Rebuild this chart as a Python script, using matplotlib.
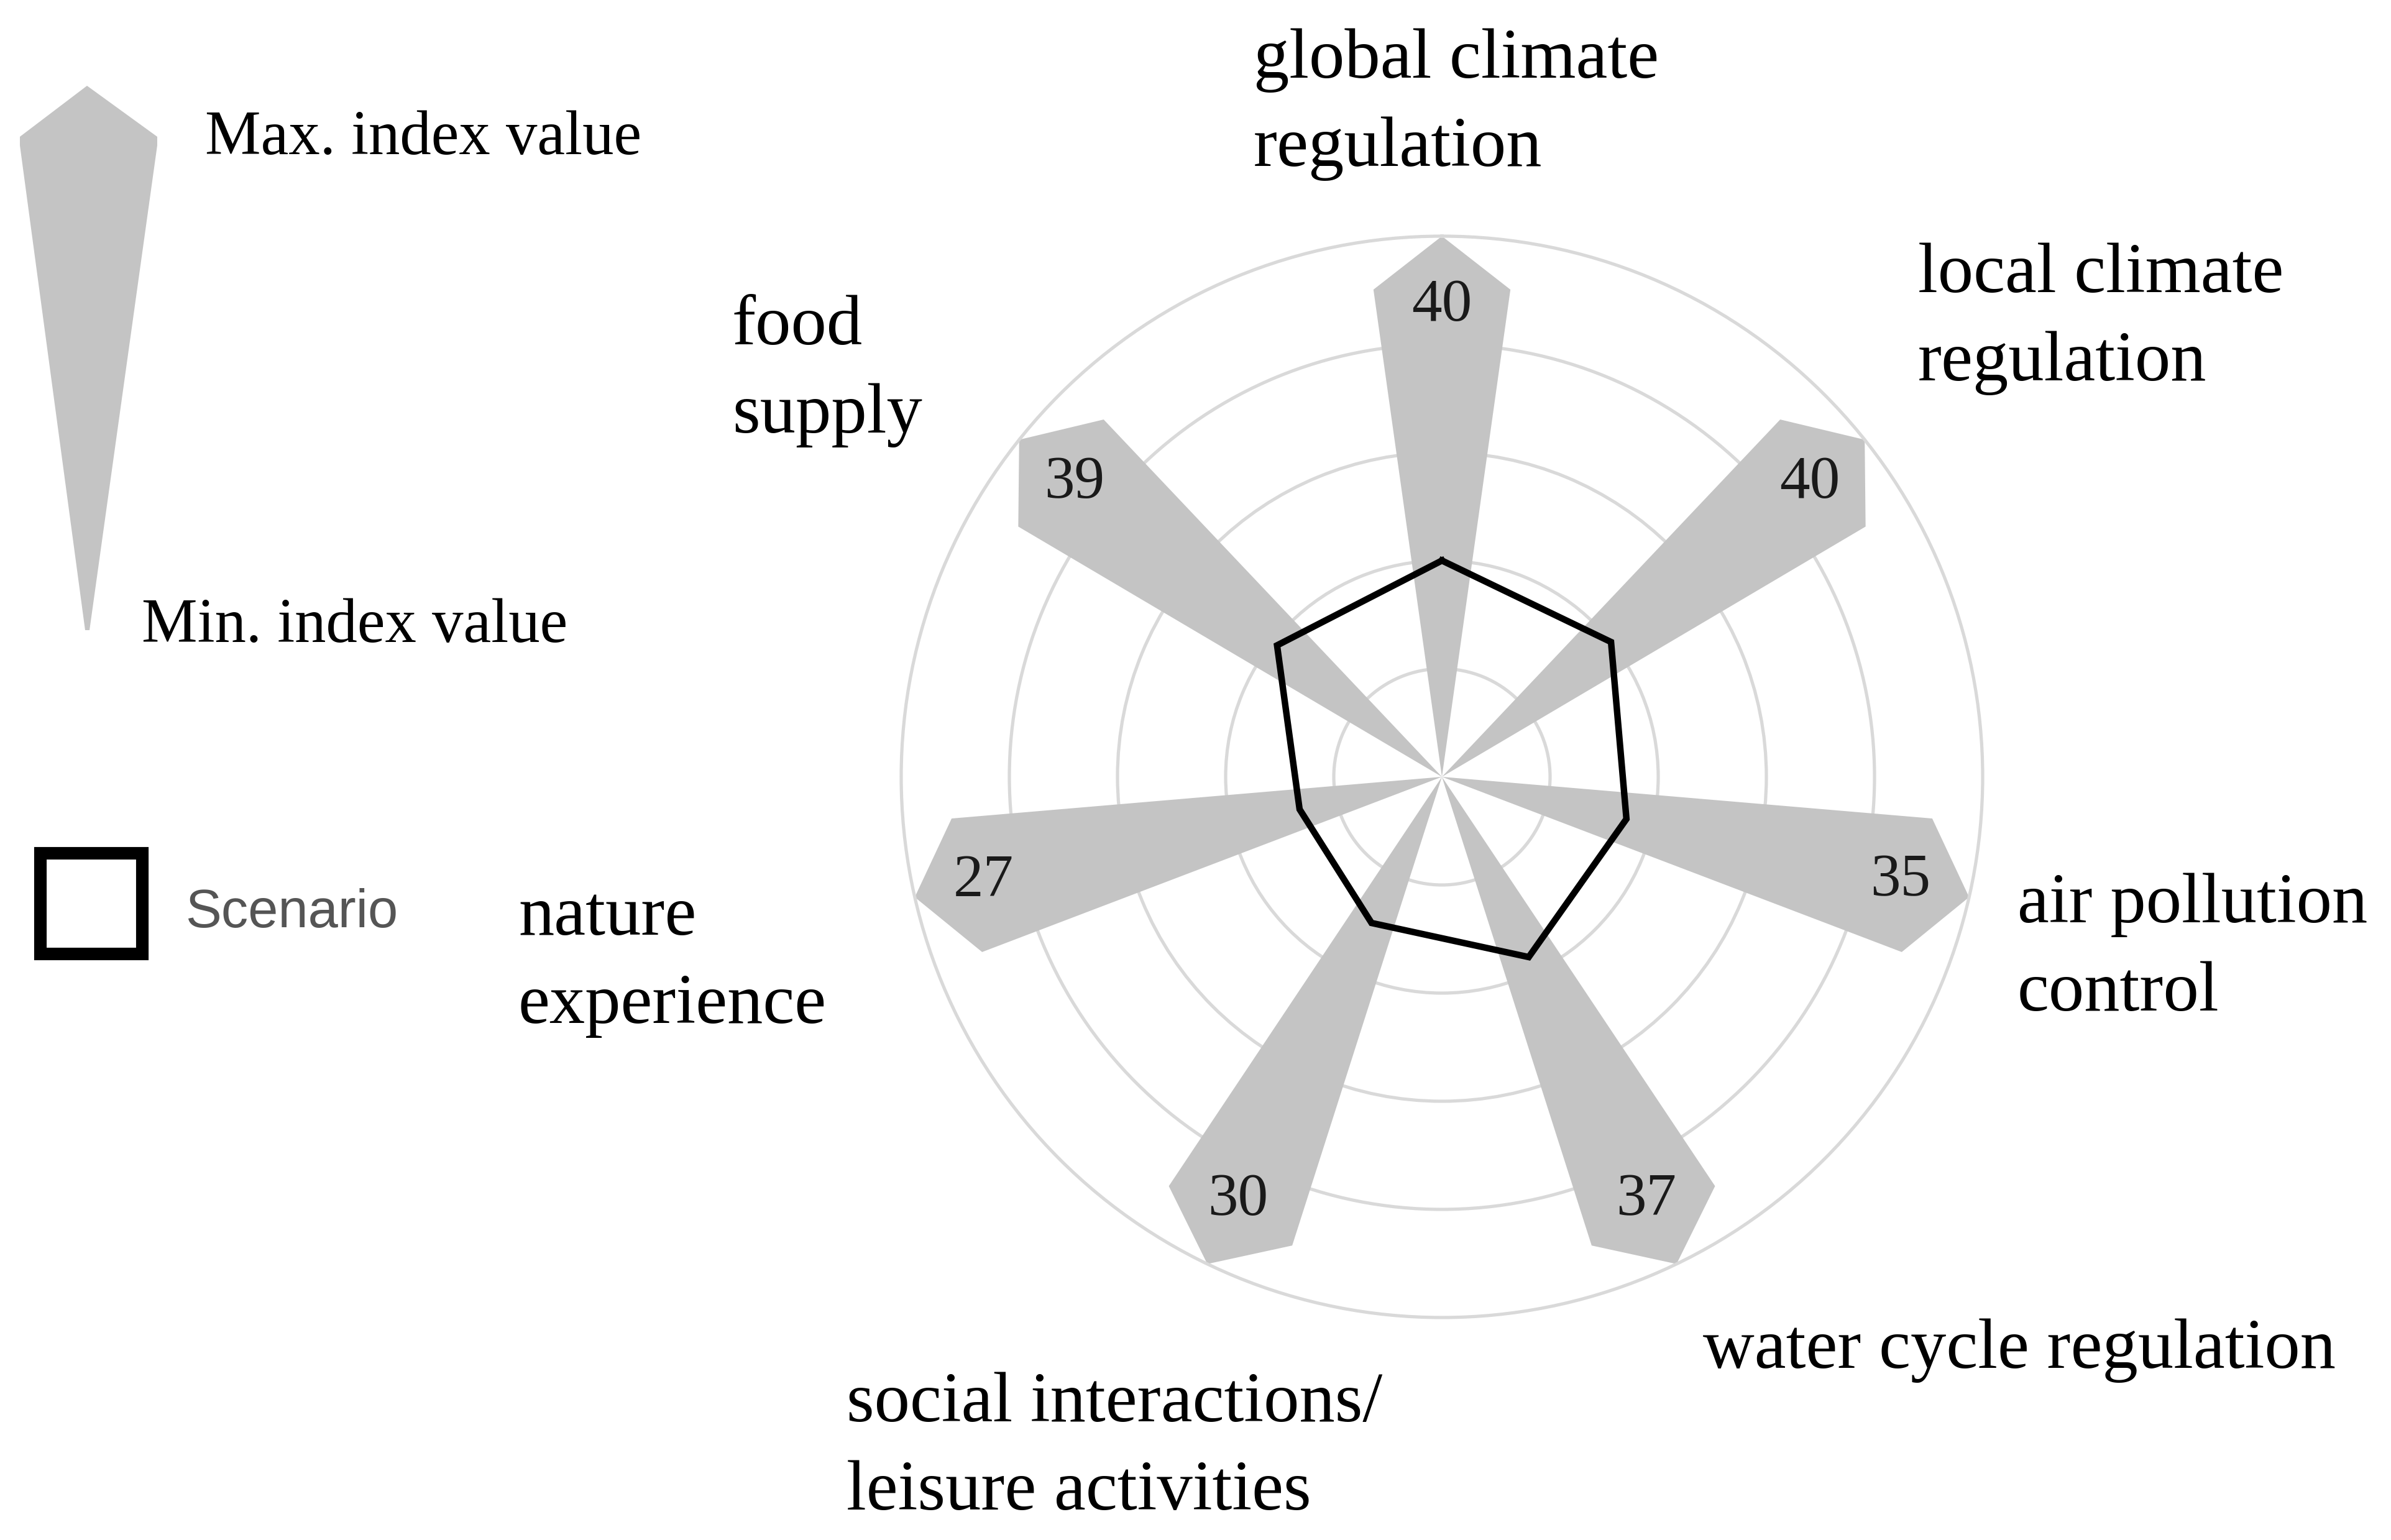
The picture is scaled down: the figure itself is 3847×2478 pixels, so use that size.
import numpy as np
import matplotlib
matplotlib.use("Agg")
import matplotlib.pyplot as plt
from matplotlib.patches import Polygon, Rectangle


W, H = 3847, 2478
DPI = 250
SERIF = "Liberation Serif"
PETAL = "#c4c4c4"
RING = "#d9d9d9"

# ecosystem services, clockwise from the top
services = [
    "global climate\nregulation",
    "local climate\nregulation",
    "air pollution\ncontrol",
    "water cycle regulation",
    "social interactions/\nleisure activities",
    "nature\nexperience",
    "food\nsupply",
]
scenario = [40, 40, 35, 37, 30, 27, 39]
index_min = [0, 0, 0, 0, 0, 0, 0]
index_max = [100, 100, 100, 100, 100, 100, 100]
rings = [20, 40, 60, 80]

# where each service label starts (left edge, baseline of first line), pixels
label_pos = [
    (2017, 125),
    (3086, 470),
    (3246, 1484),
    (2740, 2201),
    (1362, 2287),
    (834, 1504),
    (1178, 554),
]
LINE_STEP = 142


fig = plt.figure(figsize=(W / DPI, H / DPI), dpi=DPI)
fig.patch.set_facecolor("white")

# overlay in pixel units for labels and legend
ov = fig.add_axes([0, 0, 1, 1])
ov.set_xlim(0, W)
ov.set_ylim(H, 0)
ov.axis("off")

# polar chart
cx, cy, R = 2320, 1250, 870
ax = fig.add_axes([(cx - R) / W, (H - cy - R) / H, 2 * R / W, 2 * R / H], projection="polar")
ax.set_facecolor("none")
ax.set_theta_offset(np.pi / 2)
ax.set_theta_direction(-1)
ax.set_ylim(0, 100)
ax.set_thetagrids([])
ax.set_rgrids(rings, labels=[""] * len(rings))
ax.yaxis.grid(True, color=RING, lw=1.5)
ax.spines["polar"].set_color(RING)
ax.spines["polar"].set_linewidth(1.5)
ax.set_axisbelow(True)

n = len(services)
theta = np.arange(n) * 2 * np.pi / n
half = np.deg2rad(8.0)
shoulder = 0.91

for t, lo, hi in zip(theta, index_min, index_max):
    ts = [t, t - half, t, t + half]
    rs = [lo, lo + shoulder * (hi - lo), hi, lo + shoulder * (hi - lo)]
    ax.fill(ts, rs, color=PETAL, lw=0, zorder=2)

ax.plot(np.append(theta, theta[0]), scenario + scenario[:1], color="black",
        lw=3.0, solid_joinstyle="miter", zorder=4)

for t, v in zip(theta, scenario):
    ax.text(t, 87, str(v), ha="center", va="center", fontsize=28,
            family=SERIF, color="#1a1a1a", zorder=5)

for name, (x, y) in zip(services, label_pos):
    for i, line in enumerate(name.split("\n")):
        ov.text(x, y + i * LINE_STEP, line, ha="left", va="baseline",
                fontsize=33, family=SERIF, color="black")

# legend: petal glyph
glyph = [(140, 138), (253, 220), (253, 234), (144, 1014), (137, 1014), (32, 234), (32, 220)]
ov.add_patch(Polygon(glyph, closed=True, facecolor=PETAL, edgecolor="none"))
ov.text(330, 248, "Max. index value", ha="left", va="baseline", fontsize=29, family=SERIF)
ov.text(228, 1033, "Min. index value", ha="left", va="baseline", fontsize=29, family=SERIF)

# legend: scenario box
ov.add_patch(Rectangle((65, 1373), 164, 162, facecolor="none", edgecolor="black", lw=5.8))
ov.text(298, 1492, "Scenario", ha="left", va="baseline", fontsize=25,
        family="Liberation Sans", color="#555555")

fig.savefig("out.png", dpi=DPI, facecolor="white")
